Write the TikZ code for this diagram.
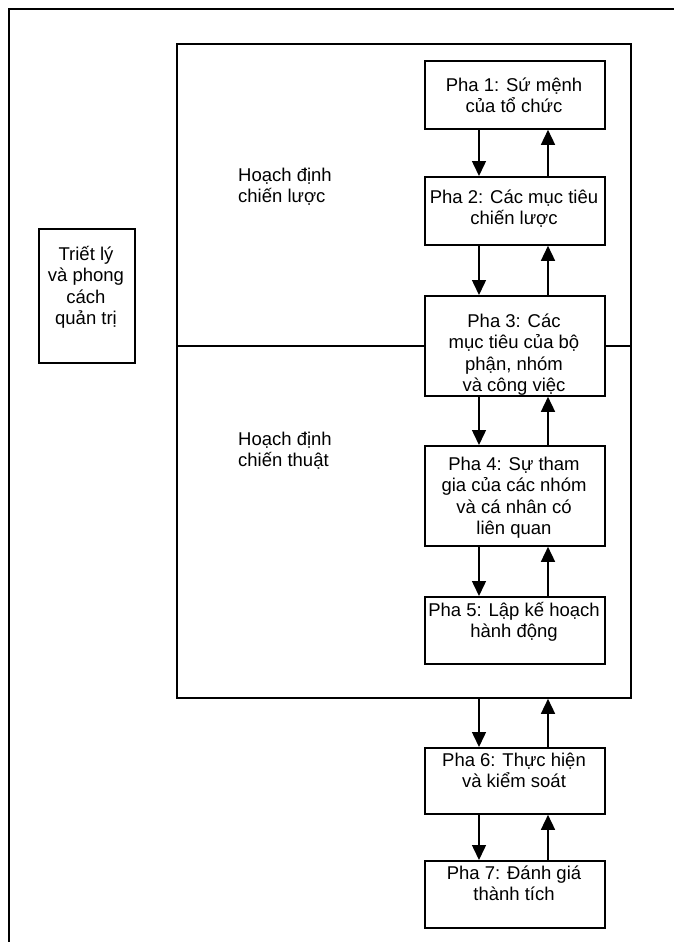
\documentclass[tikz,border=0pt]{standalone}
\usepackage{fontspec}
\setmainfont{Liberation Sans}
\usetikzlibrary{arrows.meta}
% fixed-height strut so every text block hangs from its first baseline
\newcommand{\firststrut}{\vrule height 18pt depth 0pt width 0pt}
\begin{document}
\begin{tikzpicture}[x=1pt,y=-1pt,
  txt/.style={font=\fontsize{18.5pt}{21.5pt}\selectfont, inner sep=0pt, align=center, anchor=north},
  sidetxt/.style={font=\fontsize{18.5pt}{21.5pt}\selectfont, inner sep=0pt, align=left, anchor=north west},
  box/.style={draw, line width=1.8pt, inner sep=0pt, anchor=north west},
  phase/.style={box, minimum width=180pt, minimum height=#1},
  arr/.style={line width=1.5pt, -{Triangle[length=15pt,width=14pt]}}]
\useasboundingbox (0,0) rectangle (674,942);

% page frame (open to the right and bottom)
\coordinate (fbl) at (9,942);
\coordinate (ftl) at (9,9);
\coordinate (ftr) at (674,9);
\draw[line width=1.8pt] (fbl) -- (ftl) -- (ftr);

% planning frame
\node[box, minimum width=454pt, minimum height=654pt] (plan) at (176,43) {};

% phases
\node[phase=68pt]  (p1) at (424,60)  {};
\node[phase=68pt]  (p2) at (424,176) {};
\node[phase=100pt] (p3) at (424,295) {};
\node[phase=100pt] (p4) at (424,445) {};
\node[phase=67pt]  (p5) at (424,596) {};
\node[phase=66pt]  (p6) at (424,747) {};
\node[phase=67pt]  (p7) at (424,860) {};

\node[txt] (p1t) at (514,73)  {\firststrut Pha 1: Sứ mệnh\\của tổ chức};
\node[txt] (p2t) at (514,185) {\firststrut Pha 2: Các mục tiêu\\chiến lược};
\node[txt] (p3t) at (514,309) {\firststrut Pha 3: Các\\mục tiêu của bộ\\phận, nhóm\\và công việc};
\node[txt] (p4t) at (514,452) {\firststrut Pha 4: Sự tham\\gia của các nhóm\\và cá nhân có\\liên quan};
\node[txt] (p5t) at (514,598) {\firststrut Pha 5: Lập kế hoạch\\hành động};
\node[txt] (p6t) at (514,748) {\firststrut Pha 6: Thực hiện\\và kiểm soát};
\node[txt] (p7t) at (514,861) {\firststrut Pha 7: Đánh giá\\thành tích};

% management philosophy
\node[box, minimum width=96pt, minimum height=134pt] (phil) at (38,228) {};
\node[txt] (philt) at (86,242) {\firststrut Triết lý\\và phong\\cách\\quản trị};

% planning levels
\node[sidetxt] (strat) at (238,163) {\firststrut Hoạch định\\chiến lược};
\node[sidetxt] (tact)  at (238,427) {\firststrut Hoạch định\\chiến thuật};

% divider between strategic and tactical planning
\draw[line width=1.5pt] (plan.west |- p3) -- (p3.west);
\draw[line width=1.5pt] (p3.east) -- (plan.east |- p3);

% arrows: down on the left, up on the right
\coordinate (dn) at (479,0);
\coordinate (up) at (548,0);
\draw[arr] (p1.south -| dn) -- (p2.north -| dn);
\draw[arr] (p2.north -| up) -- (p1.south -| up);
\draw[arr] (p2.south -| dn) -- (p3.north -| dn);
\draw[arr] (p3.north -| up) -- (p2.south -| up);
\draw[arr] (p3.south -| dn) -- (p4.north -| dn);
\draw[arr] (p4.north -| up) -- (p3.south -| up);
\draw[arr] (p4.south -| dn) -- (p5.north -| dn);
\draw[arr] (p5.north -| up) -- (p4.south -| up);
\draw[arr] (plan.south -| dn) -- (p6.north -| dn);
\draw[arr] (p6.north -| up) -- (plan.south -| up);
\draw[arr] (p6.south -| dn) -- (p7.north -| dn);
\draw[arr] (p7.north -| up) -- (p6.south -| up);
\end{tikzpicture}
\end{document}
